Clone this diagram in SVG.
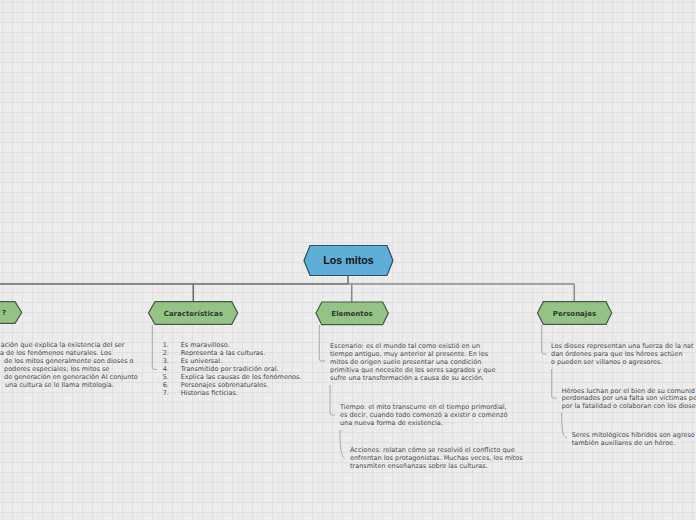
<svg xmlns="http://www.w3.org/2000/svg" width="696" height="520" viewBox="0 0 696 520">
<defs>
<pattern id="grid" x="2" y="2" width="10" height="10" patternUnits="userSpaceOnUse">
<rect width="10" height="10" fill="#ececec"/>
<path d="M0.5,0 V10 M0,0.5 H10" stroke="#e0e0e0" stroke-width="1" fill="none"/>
</pattern>
</defs>
<style>
.main{fill:#5eaed8;stroke:#2d4f64;stroke-width:1.2}
.sub{fill:#93c385;stroke:#4a5846;stroke-width:1.2}
.lmain{font-family:"Liberation Sans",Arial,sans-serif;font-weight:bold;font-size:10.7px;fill:#111;text-anchor:middle}
.lsub{font-family:"DejaVu Sans",Verdana,sans-serif;font-weight:bold;font-size:7px;fill:#2f3a2c;text-anchor:middle}
.t{font-family:"DejaVu Sans",Verdana,sans-serif;font-size:6.5px;fill:#4a4a4a}
.c1{stroke:#6a6a6a;stroke-width:1.5;fill:none}
.c2{stroke:#8c8c8c;stroke-width:1.5;fill:none}
.c3{stroke:#a8a8a8;stroke-width:1;fill:none}
</style>
<rect width="696" height="520" fill="url(#grid)"/>
<g id="connectors">
<path class="c1" d="M348,275.5 V284 M0,284 H348 M193.3,284 V302"/>
<path class="c2" d="M348,284 H574.3 M351.7,284 V302 M574.3,284 V302"/>
<path class="c3" d="M152.3,325 V367 Q152.3,369.3 154.3,369.3 H157"/>
<path class="c3" d="M319.3,325 V359 Q319.3,361 321.3,361 H325"/>
<path class="c3" d="M330,385 V413 Q330,415 332,415 H335"/>
<path class="c3" d="M340,430 C340,450 341,456 345,458.3"/>
<path class="c3" d="M541.7,325 V352 Q541.7,354 543.7,354 H546.7"/>
<path class="c3" d="M551.7,369 V396 Q551.7,398 553.7,398 H556.7"/>
<path class="c3" d="M561.7,413 C561.7,432 563,436 566.7,438"/>
</g>
<g id="node-main">
<polygon class="main" points="304,260.5 310,245.5 387,245.5 393,260.5 387,275.5 310,275.5"/>
<text class="lmain" x="348.5" y="264.3">Los mitos</text>
</g>
<g id="node-q">
<polygon class="sub" points="-14,312.5 -8,301.7 15,301.7 21.7,312.5 15,323.3 -8,323.3"/>
<text class="lsub" x="4" y="315">?</text>
</g>
<g id="node-q-text">
<text class="t" x="0.7" y="347.3">ación que explica la existencia del ser</text>
<text class="t" x="0" y="355.3">a de los fenómenos naturales. Los</text>
<text class="t" x="4" y="363.3">de los mitos generalmente son dioses o</text>
<text class="t" x="4" y="371.3">poderes especiales; los mitos se</text>
<text class="t" x="4" y="379.3">de generación en generación Al conjunto</text>
<text class="t" x="5" y="387.3">una cultura se le llama mitología.</text>
</g>
<g id="node-caracteristicas">
<polygon class="sub" points="148.5,313 155,301.7 231.7,301.7 237.7,313 231.7,324.3 155,324.3"/>
<text class="lsub" x="193.3" y="315.5">Características</text>
</g>
<g id="node-caracteristicas-text">
<text class="t" x="162.7" y="347.3">1.</text><text class="t" x="180.7" y="347.3">Es maravilloso.</text>
<text class="t" x="162.7" y="355.3">2.</text><text class="t" x="180.7" y="355.3">Representa a las culturas.</text>
<text class="t" x="162.7" y="363.3">3.</text><text class="t" x="180.7" y="363.3">Es universal.</text>
<text class="t" x="162.7" y="371.3">4.</text><text class="t" x="180.7" y="371.3">Transmitido por tradición oral.</text>
<text class="t" x="162.7" y="379.3">5.</text><text class="t" x="180.7" y="379.3">Explica las causas de los fenómenos.</text>
<text class="t" x="162.7" y="387.3">6.</text><text class="t" x="180.7" y="387.3">Personajes sobrenaturales.</text>
<text class="t" x="162.7" y="395.3">7.</text><text class="t" x="180.7" y="395.3">Historias ficticias.</text>
</g>
<g id="node-elementos">
<polygon class="sub" points="316,313.3 321.7,302 382.7,302 388.3,313.3 382.7,324.7 321.7,324.7"/>
<text class="lsub" x="352" y="315.8">Elementos</text>
</g>
<g id="node-elementos-text">
<text class="t" x="330" y="347.5">Escenario: es el mundo tal como existió en un</text>
<text class="t" x="330" y="355.5">tiempo antiguo, muy anterior al presente. En los</text>
<text class="t" x="330" y="363.5">mitos de origen suele presentar una condición</text>
<text class="t" x="330" y="371.5">primitiva que necesite de los seres sagrados y que</text>
<text class="t" x="330" y="379.5">sufre una transformación a causa de su acción.</text>
<text class="t" x="340" y="408.5">Tiempo: el mito transcurre en el tiempo primordial,</text>
<text class="t" x="340" y="416.5">es decir, cuando todo comenzó a existir o comenzó</text>
<text class="t" x="340" y="424.5">una nueva forma de existencia.</text>
<text class="t" x="350" y="452">Acciones: relatan cómo se resolvió el conflicto que</text>
<text class="t" x="350" y="460">enfrentan los protagonistas. Muchas veces, los mitos</text>
<text class="t" x="350" y="468">transmiten enseñanzas sobre las culturas.</text>
</g>
<g id="node-personajes">
<polygon class="sub" points="537.5,313 543.3,301.7 606,301.7 611.7,313 606,324.3 543.3,324.3"/>
<text class="lsub" x="574.5" y="315.5">Personajes</text>
</g>
<g id="node-personajes-text">
<text class="t" x="551" y="347.8">Los dioses representan una fuerza de la nat</text>
<text class="t" x="551" y="355.8">dan órdenes para que los héroes actúen</text>
<text class="t" x="551" y="363.6">o pueden ser villanos o agresores.</text>
<text class="t" x="561.7" y="392.5">Héroes luchan por el bien de su comunid</text>
<text class="t" x="561.7" y="400.3">perdonados por una falta son víctimas pe</text>
<text class="t" x="561.7" y="408">por la fatalidad o colaboran con los diose</text>
<text class="t" x="571.7" y="437">Seres mitológicos híbridos son agreso</text>
<text class="t" x="571.7" y="445.2">también  auxiliares de un héroe.</text>
</g>
</svg>
